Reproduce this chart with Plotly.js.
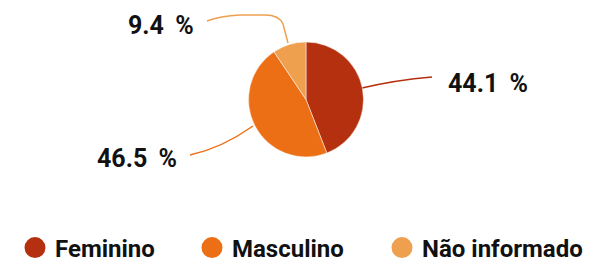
<!DOCTYPE html>
<html>
<head>
<meta charset="utf-8">
<script src="https://cdn.plot.ly/plotly-3.0.1.min.js"></script>
<style>html,body{margin:0;padding:0;background:#fff;}#chart{width:592px;height:259px;}</style>
</head>
<body>
<div id="chart"></div>
<script>
const labels = ['Feminino', 'Masculino', 'Não informado'];
const values = [44.1, 46.5, 9.4];
const colors = ['#b5300f', '#ec6f16', '#eea04f'];

const W = 592, H = 259;
const FONT = 'Roboto, "Liberation Sans", sans-serif';

const pie = {
  type: 'pie',
  labels: labels,
  values: values,
  sort: false,
  direction: 'clockwise',
  rotation: 0,
  textinfo: 'none',
  hoverinfo: 'label+percent',
  showlegend: false,
  marker: { colors: colors, line: { color: '#ffffff', width: 0.5 } },
  domain: { x: [248 / W, 364 / W], y: [1 - 157 / H, 1 - 42 / H] }
};

const legendIds = ['legend', 'legend2', 'legend3'];
const legendTraces = labels.map((lab, i) => ({
  type: 'scatter',
  mode: 'markers',
  x: [null], y: [null],
  name: lab,
  legend: legendIds[i],
  marker: { symbol: 'circle', size: 16, color: colors[i], line: { color: colors[i], width: 5 } },
  showlegend: true,
  hoverinfo: 'skip'
}));

// label anchor positions (px) and leader paths (px)
const labelPos = [[488, 83], [137, 158], [161, 25]];
const leaderPaths = [
  'M 362 88 Q 396 80 432 77',
  'M 253 126 Q 222 148 190 155',
  'M 288 43 L 283 24 Q 279 15 265 15 L 240 15 Q 220 16 207 21'
];

const annotations = values.map((v, i) => ({
  x: labelPos[i][0], y: labelPos[i][1], xref: 'x', yref: 'y',
  text: v.toFixed(1) + ' \u2009%',
  showarrow: false,
  xanchor: 'center', yanchor: 'middle',
  font: { family: FONT, size: 25, color: '#111111', weight: 700 }
}));

const shapes = leaderPaths.map((p, i) => ({
  type: 'path', xref: 'x', yref: 'y', path: p,
  line: { color: colors[i], width: 1.5 }, layer: 'below'
}));

const legendX = [15, 192, 382];
const legendStyle = (i) => ({
  orientation: 'h', x: legendX[i] / W, xanchor: 'left', y: 1 - 248 / H, yanchor: 'middle',
  font: { family: FONT, size: 24, color: '#111111', weight: 700 },
  bgcolor: 'rgba(0,0,0,0)'
});

const layout = {
  width: W, height: H,
  margin: { l: 0, r: 0, t: 0, b: 0, autoexpand: false },
  paper_bgcolor: '#ffffff', plot_bgcolor: 'rgba(0,0,0,0)',
  xaxis: { range: [0, W], visible: false, fixedrange: true },
  yaxis: { range: [H, 0], visible: false, fixedrange: true },
  showlegend: true,
  legend: legendStyle(0),
  legend2: legendStyle(1),
  legend3: legendStyle(2),
  annotations: annotations,
  shapes: shapes
};

Plotly.newPlot('chart', [pie].concat(legendTraces), layout, { displayModeBar: false, staticPlot: true });
</script>
</body>
</html>
